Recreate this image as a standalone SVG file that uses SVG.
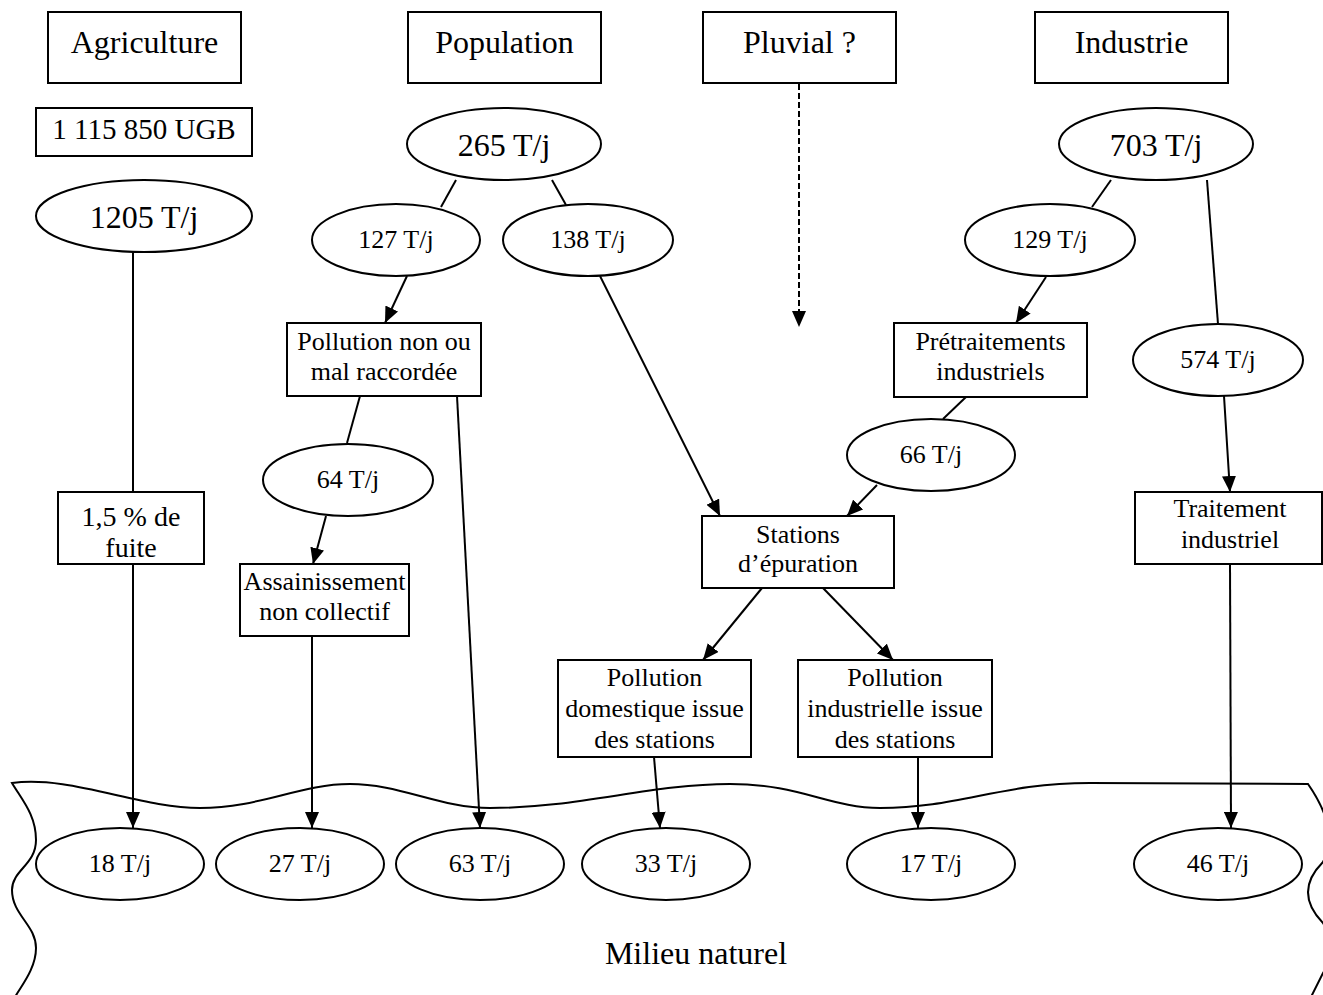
<svg xmlns="http://www.w3.org/2000/svg" width="1323" height="995" viewBox="0 0 1323 995">
<style>
.box{fill:#fff;stroke:#000;stroke-width:2}
.ell{fill:#fff;stroke:#000;stroke-width:2}
text{font-family:'Liberation Serif',serif;fill:#000;text-anchor:middle}
.big{font-size:32px}
.sm{font-size:26px}
.ln{stroke:#000;stroke-width:2;fill:none}
.ar{stroke:#000;stroke-width:2;fill:none;marker-end:url(#ah)}
.da{stroke:#000;stroke-width:2;fill:none;stroke-dasharray:6 3;marker-end:url(#ah)}
</style>
<defs>
<marker id="ah" markerUnits="userSpaceOnUse" markerWidth="17" markerHeight="14" refX="16" refY="7" orient="auto">
<path d="M0,0 L16,7 L0,14 z" fill="#000"/>
</marker>
</defs>
<rect width="1323" height="995" fill="#fff"/>
<g id="milieu" font-family="Liberation Serif, serif">
<path class="ln" d="M15,997 C22,985 36,968 36,948 C36,925 12,915 12,890 C12,870 36,865 36,840 C36,815 22,800 12,783 C70,775 140,808 200,808 C260,808 300,784 350,784 C400,784 440,808 490,808 C580,808 650,784 730,784 C800,784 830,808 880,808 C960,808 1000,783 1090,783 L1308,784 Q1340,830 1323,862 Q1293,892 1323,923 Q1340,950 1323,973 L1311,997"/>
<text class="big" x="696" y="964" font-family="Liberation Serif, serif">Milieu naturel</text>
</g>
<g id="connectors">
<line class="ln" x1="133" y1="252" x2="133" y2="492"/>
<line class="ar" x1="133" y1="564" x2="133" y2="828"/>
<line class="ln" x1="456" y1="180" x2="441" y2="207"/>
<line class="ln" x1="552" y1="180" x2="566" y2="205"/>
<line class="ar" x1="407" y1="276" x2="385" y2="323"/>
<line class="ln" x1="360" y1="396" x2="347" y2="443"/>
<line class="ar" x1="326" y1="516" x2="313" y2="564"/>
<line class="ar" x1="312" y1="636" x2="312" y2="828"/>
<line class="ar" x1="457" y1="396" x2="480" y2="828"/>
<line class="ar" x1="600" y1="276" x2="720" y2="516"/>
<line class="da" x1="799" y1="84" x2="799" y2="327"/>
<line class="ln" x1="1111" y1="180" x2="1092" y2="207"/>
<line class="ar" x1="1046" y1="277" x2="1016" y2="323"/>
<line class="ln" x1="966" y1="397" x2="943" y2="419"/>
<line class="ar" x1="877" y1="485" x2="847" y2="516"/>
<line class="ar" x1="762" y1="588" x2="703" y2="660"/>
<line class="ar" x1="823" y1="588" x2="893" y2="660"/>
<line class="ar" x1="654" y1="757" x2="660" y2="828"/>
<line class="ar" x1="918" y1="757" x2="918" y2="828"/>
<line class="ln" x1="1207" y1="180" x2="1218" y2="324"/>
<line class="ar" x1="1224" y1="396" x2="1230" y2="492"/>
<line class="ar" x1="1230" y1="564" x2="1231" y2="828"/>
</g>
<g font-family="Liberation Serif, serif">
<g id="agriculture"><rect class="box" x="48" y="12" width="193" height="71"/><text class="big" x="144.5" y="53">Agriculture</text></g>
<g id="population"><rect class="box" x="408" y="12" width="193" height="71"/><text class="big" x="504.5" y="53">Population</text></g>
<g id="pluvial"><rect class="box" x="703" y="12" width="193" height="71"/><text class="big" x="799.5" y="53">Pluvial ?</text></g>
<g id="industrie"><rect class="box" x="1035" y="12" width="193" height="71"/><text class="big" x="1131.5" y="53">Industrie</text></g>
<g id="ugb"><rect class="box" x="36" y="108" width="216" height="48"/><text class="big" x="144" y="139" style="font-size:29px">1 115 850 UGB</text></g>
<g id="e1205"><ellipse class="ell" cx="144" cy="216" rx="108" ry="36"/><text class="big" x="144" y="228">1205 T/j</text></g>
<g id="e265"><ellipse class="ell" cx="504" cy="144" rx="97" ry="36"/><text class="big" x="504" y="156">265 T/j</text></g>
<g id="e703"><ellipse class="ell" cx="1156" cy="144" rx="97" ry="36"/><text class="big" x="1156" y="156">703 T/j</text></g>
<g id="e127"><ellipse class="ell" cx="396" cy="240" rx="84" ry="36"/><text class="sm" x="396" y="248">127 T/j</text></g>
<g id="e138"><ellipse class="ell" cx="588" cy="240" rx="85" ry="36"/><text class="sm" x="588" y="248">138 T/j</text></g>
<g id="e129"><ellipse class="ell" cx="1050" cy="240" rx="85" ry="36"/><text class="sm" x="1050" y="248">129 T/j</text></g>
<g id="e574"><ellipse class="ell" cx="1218" cy="360" rx="85" ry="36"/><text class="sm" x="1218" y="368">574 T/j</text></g>
<g id="e66"><ellipse class="ell" cx="931" cy="455" rx="84" ry="36"/><text class="sm" x="931" y="463">66 T/j</text></g>
<g id="e64"><ellipse class="ell" cx="348" cy="480" rx="85" ry="36"/><text class="sm" x="348" y="488">64 T/j</text></g>
<g id="fuite"><rect class="box" x="58" y="492" width="146" height="72"/><text class="big" x="131" y="526" style="font-size:28px">1,5 % de</text><text class="big" x="131" y="557" style="font-size:28px">fuite</text></g>
<g id="pollnon"><rect class="box" x="287" y="323" width="194" height="73"/><text class="sm" x="384" y="350">Pollution non ou</text><text class="sm" x="384" y="380">mal raccordée</text></g>
<g id="assain"><rect class="box" x="240" y="564" width="169" height="72"/><text class="sm" x="324.5" y="590">Assainissement</text><text class="sm" x="324.5" y="620">non collectif</text></g>
<g id="pretrait"><rect class="box" x="894" y="323" width="193" height="74"/><text class="sm" x="990.5" y="350">Prétraitements</text><text class="sm" x="990.5" y="380">industriels</text></g>
<g id="stations"><rect class="box" x="702" y="516" width="192" height="72"/><text class="sm" x="798" y="543">Stations</text><text class="sm" x="798" y="572">d’épuration</text></g>
<g id="traitement"><rect class="box" x="1135" y="492" width="187" height="72"/><text class="sm" x="1230" y="517">Traitement</text><text class="sm" x="1230" y="548">industriel</text></g>
<g id="polldom"><rect class="box" x="558" y="660" width="193" height="97"/><text class="sm" x="654.5" y="686">Pollution</text><text class="sm" x="654.5" y="717">domestique issue</text><text class="sm" x="654.5" y="748">des stations</text></g>
<g id="pollind"><rect class="box" x="798" y="660" width="194" height="97"/><text class="sm" x="895" y="686">Pollution</text><text class="sm" x="895" y="717">industrielle issue</text><text class="sm" x="895" y="748">des stations</text></g>
<g id="o18"><ellipse class="ell" cx="120" cy="864" rx="84" ry="36"/><text class="sm" x="120" y="872">18 T/j</text></g>
<g id="o27"><ellipse class="ell" cx="300" cy="864" rx="84" ry="36"/><text class="sm" x="300" y="872">27 T/j</text></g>
<g id="o63"><ellipse class="ell" cx="480" cy="864" rx="84" ry="36"/><text class="sm" x="480" y="872">63 T/j</text></g>
<g id="o33"><ellipse class="ell" cx="666" cy="864" rx="84" ry="36"/><text class="sm" x="666" y="872">33 T/j</text></g>
<g id="o17"><ellipse class="ell" cx="931" cy="864" rx="84" ry="36"/><text class="sm" x="931" y="872">17 T/j</text></g>
<g id="o46"><ellipse class="ell" cx="1218" cy="864" rx="84" ry="36"/><text class="sm" x="1218" y="872">46 T/j</text></g>
</g>
</svg>
